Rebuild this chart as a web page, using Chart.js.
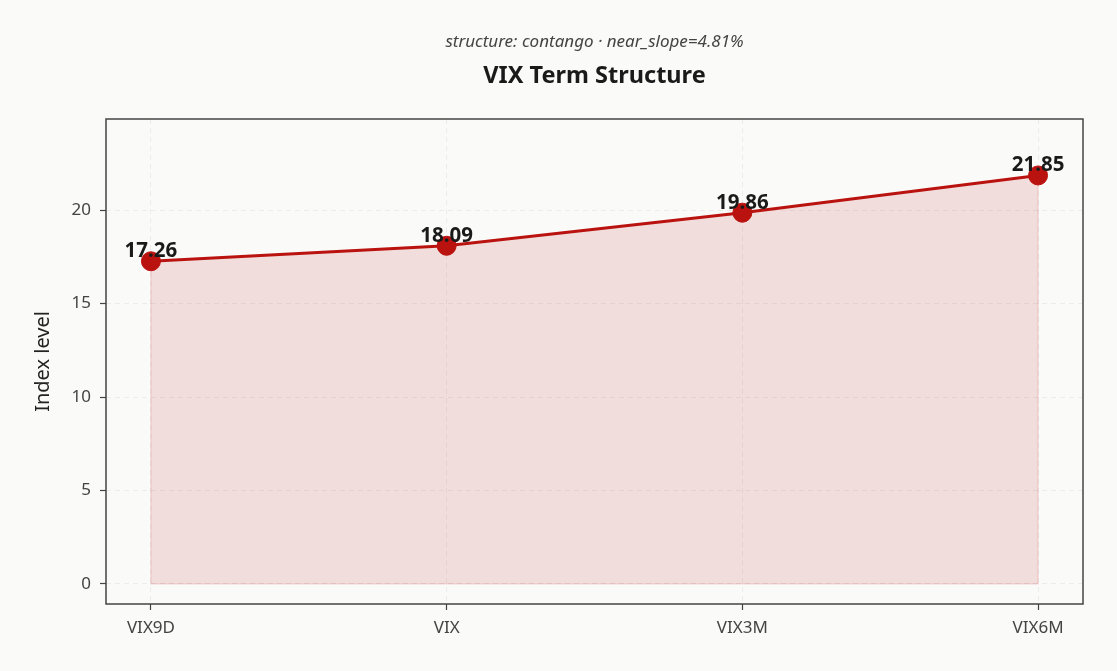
<!DOCTYPE html>
<html>
<head>
<meta charset="utf-8">
<script src="https://cdn.jsdelivr.net/npm/chart.js@4.4.1/dist/chart.umd.min.js"></script>
<style>
  html, body { margin: 0; padding: 0; background: #fafaf8; }
  #wrap { width: 1117px; height: 671px; }
</style>
</head>
<body>
<div id="wrap"><canvas id="termChart"></canvas></div>
<script>
// VIX term structure
const tenors = ['VIX9D', 'VIX', 'VIX3M', 'VIX6M'];
const levels = [17.26, 18.09, 19.86, 21.85];
const yTicks = [0, 5, 10, 15, 20];
const subText = 'structure: contango \u00b7 near_slope=4.81%';
const titleText = 'VIX Term Structure';

const lineRed = 'rgb(185, 18, 15)';

// value labels above each point
const pointLabels = {
    id: 'pointLabels',
    afterDatasetsDraw(chart) {
        const ctx = chart.ctx;
        const meta = chart.getDatasetMeta(0);
        ctx.save();
        ctx.font = 'bold 20.5px "Noto Sans"';
        ctx.fillStyle = '#1a1a1a';
        ctx.textAlign = 'center';
        ctx.textBaseline = 'alphabetic';
        meta.data.forEach(function(pt, i) {
            ctx.fillText(levels[i].toFixed(2), pt.x, pt.y - 4);
        });
        ctx.restore();
    }
};

// frame around the plot area, faint outline of the fill, titles centred on the plot
const frame = {
    id: 'frame',
    beforeDatasetsDraw(chart) {
        const a = chart.chartArea;
        const ctx = chart.ctx;
        const pts = chart.getDatasetMeta(0).data;
        const y0 = chart.scales.y.getPixelForValue(0);
        ctx.save();
        ctx.strokeStyle = 'rgba(185, 18, 15, 0.15)';
        ctx.lineWidth = 1.2;
        ctx.beginPath();
        ctx.moveTo(pts[0].x, pts[0].y);
        ctx.lineTo(pts[0].x, y0);
        ctx.lineTo(pts[pts.length - 1].x, y0);
        ctx.lineTo(pts[pts.length - 1].x, pts[pts.length - 1].y);
        ctx.stroke();
        ctx.strokeStyle = '#444';
        ctx.lineWidth = 1.5;
        ctx.strokeRect(a.left, a.top, a.right - a.left, a.bottom - a.top);
        ctx.restore();
    },
    afterDraw(chart) {
        const a = chart.chartArea;
        const ctx = chart.ctx;
        const cx = (a.left + a.right) / 2;
        ctx.save();
        ctx.textAlign = 'center';
        ctx.textBaseline = 'middle';
        ctx.fillStyle = '#444';
        ctx.font = 'italic 17px "Noto Sans"';
        ctx.fillText(subText, cx, 42);
        ctx.fillStyle = '#1a1a1a';
        ctx.font = 'bold 23.5px "Noto Sans"';
        ctx.fillText(titleText, cx, 76);
        ctx.restore();
    }
};

const ctx = document.getElementById('termChart').getContext('2d');
new Chart(ctx, {
    type: 'line',
    data: {
        datasets: [{
            label: 'VIX',
            data: levels.map(function(v, i) { return { x: i, y: v }; }),
            borderColor: lineRed,
            borderWidth: 3,
            backgroundColor: 'rgba(185, 18, 15, 0.12)',
            fill: 'origin',
            pointRadius: 9.5,
            pointBackgroundColor: lineRed,
            pointBorderColor: lineRed,
            pointBorderWidth: 1,
            tension: 0
        }]
    },
    options: {
        responsive: true,
        maintainAspectRatio: false,
        animation: false,
        layout: { padding: { left: 0, right: 34, top: 119, bottom: 0 } },
        plugins: {
            legend: { display: false },
            tooltip: { enabled: false },
            title: { display: false }
        },
        scales: {
            x: {
                type: 'linear',
                min: -0.152,
                max: 3.152,
                afterBuildTicks: function(scale) {
                    scale.ticks = tenors.map(function(t, i) { return { value: i }; });
                },
                ticks: {
                    color: '#444',
                    font: { family: '"Noto Sans"', size: 17 },
                    padding: 8,
                    callback: function(value) { return tenors[value]; }
                },
                grid: {
                    color: '#ececea',
                    lineWidth: 1,
                    tickColor: '#444',
                    tickLength: 6,
                    tickWidth: 1.2
                },
                border: { display: false, dash: [5, 4] },
                afterFit: function(scale) { scale.height = 67; }
            },
            y: {
                type: 'linear',
                min: -1.07,
                max: 24.87,
                afterBuildTicks: function(scale) {
                    scale.ticks = yTicks.map(function(v) { return { value: v }; });
                },
                ticks: {
                    color: '#444',
                    font: { family: '"Noto Sans"', size: 17 },
                    padding: 9
                },
                grid: {
                    color: '#ececea',
                    lineWidth: 1,
                    tickColor: '#444',
                    tickLength: 6,
                    tickWidth: 1.2
                },
                border: { display: false, dash: [5, 4] },
                title: {
                    display: true,
                    text: 'Index level',
                    color: '#222',
                    font: { family: '"Noto Sans"', size: 20 },
                    padding: { top: 31, bottom: 0 }
                },
                afterFit: function(scale) { scale.width = 106; }
            }
        }
    },
    plugins: [frame, pointLabels]
});
</script>
</body>
</html>
